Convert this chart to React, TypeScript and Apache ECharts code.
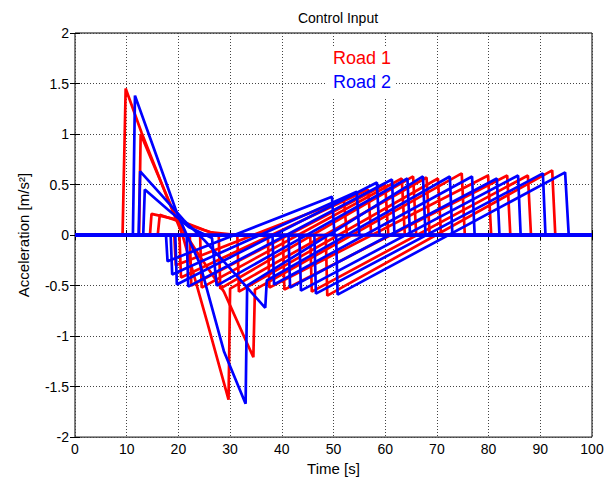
import React, { useEffect, useRef } from "react";
import * as echarts from "echarts";

// Time axis ticks and acceleration axis ticks
const xTicks = [0, 10, 20, 30, 40, 50, 60, 70, 80, 90, 100];
const yTicks = [-2, -1.5, -1, -0.5, 0, 0.5, 1, 1.5, 2];

// Road 1 (red) control input traces: [time s, acceleration m/s^2]
const road1Traces: number[][][] = [
  [[0, 0], [19.2, 0], [19.5, -0.3], [52, 0.35], [52.6, 0], [100, 0]],
  [[0, 0], [20.2, 0], [20.5, -0.42], [56.7, 0.45], [57.3, 0], [100, 0]],
  [[0, 0], [22.2, 0], [22.5, -0.5], [60, 0.5], [60.6, 0], [100, 0]],
  [[0, 0], [24.2, 0], [24.5, -0.52], [63.2, 0.56], [63.8, 0], [100, 0]],
  [[0, 0], [14.5, 0], [14.8, 0.21], [20, 0.15], [25, 0.05], [27.8, 0], [28.1, -0.53], [65.4, 0.58], [66, 0], [100, 0]],
  [[0, 0], [9.2, 0], [9.8, 1.45], [12.9, 1.01], [18, 0.35], [20.8, 0], [25.5, -0.85], [29.7, -1.63], [30, -0.53], [68, 0.57], [68.6, 0], [100, 0]],
  [[0, 0], [16, 0], [16.4, 0.2], [21, 0.12], [26, 0.03], [31.4, 0], [31.7, -0.56], [70.2, 0.56], [70.8, 0], [100, 0]],
  [[0, 0], [12.4, 0], [12.7, 1.0], [16, 0.6], [20, 0.12], [24, -0.2], [28.8, -0.56], [34.5, -1.21], [34.8, -0.54], [74.8, 0.61], [75.4, 0], [100, 0]],
  [[0, 0], [37.3, 0], [37.6, -0.52], [79.9, 0.59], [80.5, 0], [100, 0]],
  [[0, 0], [40.2, 0], [40.5, -0.54], [83.6, 0.59], [84.2, 0], [100, 0]],
  [[0, 0], [45.5, 0], [45.8, -0.56], [87.6, 0.59], [88.2, 0], [100, 0]],
  [[0, 0], [48.5, 0], [48.8, -0.6], [92.3, 0.64], [92.9, 0], [100, 0]],
];

// Road 2 (blue) control input traces: [time s, acceleration m/s^2]
const road2Traces: number[][][] = [
  [[0, 0], [17.6, 0], [17.9, -0.26], [49.7, 0.38], [50.2, 0], [100, 0]],
  [[0, 0], [18.5, 0], [18.8, -0.39], [54.5, 0.43], [55, 0], [100, 0]],
  [[0, 0], [19.4, 0], [19.7, -0.49], [58.4, 0.52], [58.9, 0], [100, 0]],
  [[0, 0], [21.6, 0], [21.9, -0.51], [61.3, 0.55], [61.8, 0], [100, 0]],
  [[0, 0], [13.2, 0], [13.5, 0.45], [18, 0.25], [22, 0.08], [26.5, -0.03], [27.4, -0.5], [64.3, 0.56], [64.8, 0], [100, 0]],
  [[0, 0], [11.2, 0], [11.6, 1.38], [14.6, 0.95], [19.7, 0.22], [24.2, -0.29], [28.8, -1.15], [33, -1.67], [33.3, -0.5], [67.3, 0.58], [67.8, 0], [100, 0]],
  [[0, 0], [12.3, 0], [12.6, 0.63], [17, 0.38], [21, 0.15], [25, -0.05], [30, -0.33], [36.8, -0.72], [37.1, -0.45], [72.5, 0.58], [73, 0], [100, 0]],
  [[0, 0], [38.2, 0], [38.5, -0.49], [76.8, 0.58], [77.3, 0], [100, 0]],
  [[0, 0], [41.3, 0], [41.6, -0.52], [81.6, 0.56], [82.1, 0], [100, 0]],
  [[0, 0], [43.4, 0], [43.7, -0.55], [85.7, 0.59], [86.2, 0], [100, 0]],
  [[0, 0], [46.3, 0], [46.6, -0.58], [90.5, 0.61], [91, 0], [100, 0]],
  [[0, 0], [50.5, 0], [50.8, -0.59], [94.8, 0.62], [95.5, 0], [100, 0]],
];

const seriesNames = ["Road 1", "Road 2"];
const seriesColors = ["#ff0000", "#0000ff"];

const FONT = "'Liberation Sans', Arial, Helvetica, sans-serif";

export default function App() {
  const ref = useRef<HTMLDivElement>(null);
  useEffect(() => {
    if (!ref.current) return;
    const chart = echarts.init(ref.current, null, { renderer: "svg" });
    const mk = (traces: number[][][], i: number) =>
      traces.map((tr) => ({
        name: seriesNames[i],
        type: "line",
        data: tr,
        showSymbol: false,
        symbol: "none",
        xAxisIndex: 0,
        yAxisIndex: 0,
        lineStyle: { color: seriesColors[i], width: 2.7 },
        itemStyle: { color: seriesColors[i] },
        z: 3 + i,
      }));
    const axisCommon = {
      type: "value",
      axisLine: { show: false },
      axisTick: { show: true, inside: true, length: 5, lineStyle: { color: "#000", width: 1 } },
    };
    const gridLine = { show: true, lineStyle: { color: "#444", type: [1, 2], width: 1 } };
    chart.setOption({
      animation: false,
      backgroundColor: "#fff",
      title: {
        text: "Control Input",
        left: 333,
        top: 6,
        textAlign: "center",
        textStyle: { fontSize: 14, fontWeight: "normal", color: "#000", fontFamily: FONT },
      },
      grid: {
        left: 75,
        right: 21,
        top: 33,
        bottom: 43,
        show: true,
        borderColor: "#000",
        borderWidth: 1,
        backgroundColor: "transparent",
      },
      xAxis: [
        {
          ...axisCommon,
          min: xTicks[0],
          max: xTicks[xTicks.length - 1],
          interval: 10,
          position: "bottom",
          name: "Time [s]",
          nameLocation: "middle",
          nameGap: 23,
          nameTextStyle: { fontSize: 15, color: "#000", fontFamily: FONT },
          axisLabel: { fontSize: 14, color: "#000", margin: 5, fontFamily: FONT },
          splitLine: gridLine,
        },
        {
          ...axisCommon,
          min: xTicks[0],
          max: xTicks[xTicks.length - 1],
          interval: 10,
          position: "top",
          axisLabel: { show: false },
          splitLine: { show: false },
        },
      ],
      yAxis: [
        {
          ...axisCommon,
          min: yTicks[0],
          max: yTicks[yTicks.length - 1],
          interval: 0.5,
          position: "left",
          name: "Acceleration [m/s²]",
          nameLocation: "middle",
          nameGap: 44,
          nameTextStyle: { fontSize: 15, color: "#000", fontFamily: FONT },
          axisLabel: { fontSize: 14, color: "#000", margin: 6, fontFamily: FONT },
          splitLine: gridLine,
        },
        {
          ...axisCommon,
          min: yTicks[0],
          max: yTicks[yTicks.length - 1],
          interval: 0.5,
          position: "right",
          axisLabel: { show: false },
          splitLine: { show: false },
        },
      ],
      graphic: [
        {
          type: "rect",
          shape: { x: 327, y: 46, width: 68, height: 51 },
          style: { fill: "#fff" },
          z: 10,
        },
        {
          type: "text",
          x: 362,
          y: 58,
          style: {
            text: seriesNames[0],
            fill: seriesColors[0],
            fontSize: 18,
            fontFamily: FONT,
            textAlign: "center",
            textVerticalAlign: "middle",
          },
          z: 11,
        },
        {
          type: "text",
          x: 362,
          y: 82,
          style: {
            text: seriesNames[1],
            fill: seriesColors[1],
            fontSize: 18,
            fontFamily: FONT,
            textAlign: "center",
            textVerticalAlign: "middle",
          },
          z: 11,
        },
      ],
      series: [...mk(road1Traces, 0), ...mk(road2Traces, 1)],
    });
    return () => chart.dispose();
  }, []);
  return (
    <div
      ref={ref}
      style={{ position: "fixed", left: 0, top: 0, width: 613, height: 481, background: "#fff" }}
    />
  );
}
